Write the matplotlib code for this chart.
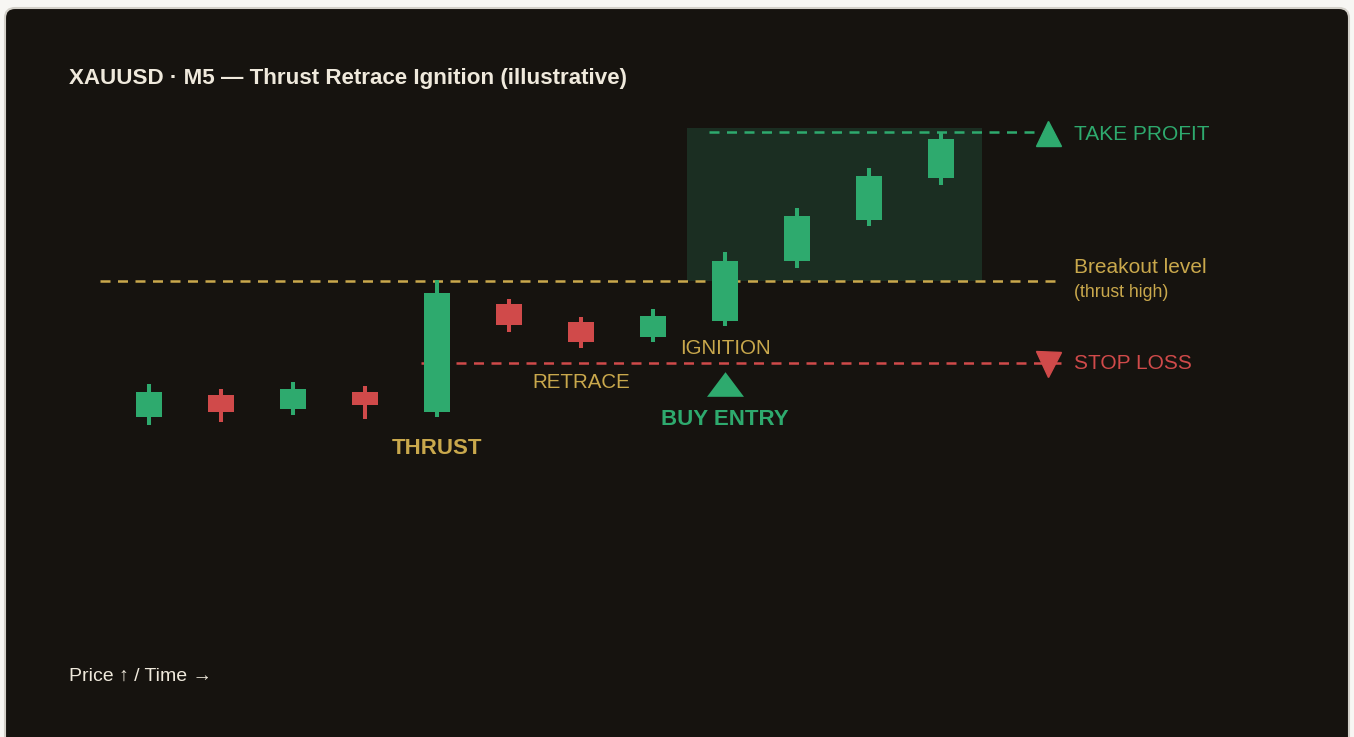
import matplotlib.pyplot as plt
import numpy as np
from matplotlib.patches import FancyBboxPatch, Rectangle
from matplotlib.path import Path

# candle data (price units, illustrative)
opens = [320, 342, 328, 345, 325, 433, 415, 400, 416, 476, 517, 559]
highs = [353, 348, 355, 351, 457, 438, 420, 428, 485, 529, 569, 604]
lows = [312, 315, 322, 318, 320, 405, 389, 395, 411, 469, 511, 552]
closes = [345, 325, 348, 332, 444, 412, 395, 421, 476, 521, 561, 598]

breakout = 456
stop_loss = 374
take_profit = 605

title = "XAUUSD · M5 — Thrust Retrace Ignition (illustrative)"
footer = "Price ↑ / Time →"

GREEN = '#2eaa6e'
RED = '#d04a4a'
GOLD = '#c9a84c'
BG = '#16130f'
TXT = '#efe9dc'

plt.rcParams['font.family'] = ['Liberation Sans', 'DejaVu Sans']

W, H = 1354, 737
fig = plt.figure(figsize=(W / 100, H / 100), dpi=100, facecolor='#f7f6f3')
ax = fig.add_axes([0, 0, 1, 1])
ax.set_xlim(0, W)
ax.set_ylim(0, H)
ax.axis('off')

# dark panel
panel = FancyBboxPatch((5, -20), 1344, 749, boxstyle='round,pad=0,rounding_size=10',
                       facecolor=BG, edgecolor='#d3d0c9', linewidth=1.5)
ax.add_patch(panel)

xs = 149 + 72 * np.arange(len(opens))
o = np.array(opens)
c = np.array(closes)
cols = [GREEN if cc >= oo else RED for oo, cc in zip(o, c)]

# target zone
ax.add_patch(Rectangle((xs[8] - 38, breakout), xs[11] + 41 - (xs[8] - 38), take_profit + 4 - breakout,
                       facecolor='#1b2e22', edgecolor='none', zorder=1))

# levels
lw = 1.8
dash = (0, (4, 3))
ax.hlines(breakout, 100, 1062, colors=GOLD, linewidth=lw, linestyles=dash, zorder=2)
ax.hlines(stop_loss, 421, 1062, colors=RED, linewidth=lw, linestyles=dash, zorder=2)
ax.hlines(take_profit, 709, 1040, colors=GREEN, linewidth=lw, linestyles=dash, zorder=2)

# candles
ax.vlines(xs, lows, highs, colors=cols, linewidth=2.9, zorder=3)
ax.bar(xs, np.abs(c - o), bottom=np.minimum(o, c), width=26, color=cols, zorder=4)

# markers
ax.plot([1048], [take_profit - 1], marker='^', markersize=18, color=GREEN, zorder=5)
ax.plot([1048], [stop_loss - 1], marker='v', markersize=18, color=RED, zorder=5)
wide_tri = Path([(-1.5, -1), (1.5, -1), (0, 1), (-1.5, -1)])
ax.plot([xs[8]], [H - 383.5], marker=wide_tri, markersize=26.6, color=GREEN,
        markeredgewidth=0, zorder=5)

# text
ax.text(69, H - 84, title, fontsize=16.1, fontweight='bold', color=TXT, va='baseline')
ax.text(69, H - 681, footer, fontsize=14, color=TXT, va='baseline')

ax.text(1074, H - 140, "TAKE PROFIT", fontsize=15, color=GREEN, va='baseline')
ax.text(1074, H - 273.3, "Breakout level", fontsize=15, color=GOLD, va='baseline')
ax.text(1074, H - 297, "(thrust high)", fontsize=12.7, color=GOLD, va='baseline')
ax.text(1074, H - 369.3, "STOP LOSS", fontsize=15, color=RED, va='baseline')

ax.text(xs[4], H - 453.7, "THRUST", fontsize=16, fontweight='bold', color=GOLD,
        ha='center', va='baseline')
ax.text(xs[6], H - 388.3, "RETRACE", fontsize=14.8, color=GOLD, ha='center', va='baseline')
ax.text(xs[8], H - 354.3, "IGNITION", fontsize=14.8, color=GOLD, ha='center', va='baseline')
ax.text(xs[8], H - 425, "BUY ENTRY", fontsize=16, fontweight='bold', color=GREEN,
        ha='center', va='baseline')

fig.savefig('out.png', dpi=100, facecolor=fig.get_facecolor())
